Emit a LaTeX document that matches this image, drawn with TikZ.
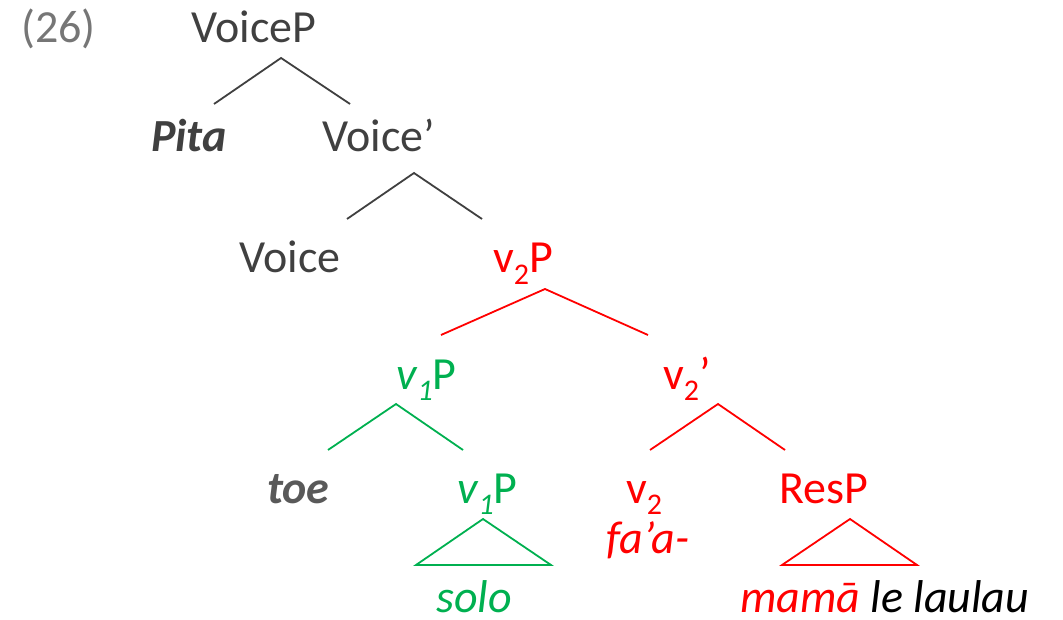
\documentclass[tikz,border=0pt]{standalone}
\usepackage{fontspec}
\setmainfont{Carlito}
\usetikzlibrary{calc}
\definecolor{txtgray}{HTML}{404040}
\definecolor{numgray}{HTML}{767676}
\definecolor{toegray}{HTML}{595959}
\definecolor{treered}{HTML}{FF0000}
\definecolor{treegreen}{HTML}{00B050}
% lowered, smaller index digit
\newcommand\lowidx[1]{\raisebox{-0.24em}{\fontsize{30}{30}\selectfont #1}}
\begin{document}
\begin{tikzpicture}[x=1pt,y=-1pt,
  lbl/.style={anchor=base west,inner sep=0pt,font=\fontsize{46}{55}\selectfont,text=txtgray},
  branch/.style={line width=1.8pt,draw=txtgray},
  redbranch/.style={line width=1.8pt,draw=treered,line join=miter},
  greenbranch/.style={line width=1.8pt,draw=treegreen,line join=miter}]
\useasboundingbox (0,0) rectangle (1063,620);

% labels
\node[lbl,text=numgray] (num) at (21,43) {(26)};
\node[lbl] (voicep) at (191,43) {VoiceP};
\node[lbl] (pita) at (151,152) {\textbf{\textit{Pita}}};
\node[lbl] (voicebar) at (322,152) {Voice’};
\node[lbl] (voice) at (239,273) {Voice};
\node[lbl,text=treered] (vtwop) at (493,273) {v\lowidx{2}P};
\node[lbl,text=treegreen] (vonep) at (396,389) {\textit{v}\lowidx{\textit{1}}P};
\node[lbl,text=treered] (vtwobar) at (663,389) {v\lowidx{2}’};
\node[lbl,text=toegray] (toe) at (267,503) {\textbf{\textit{toe}}};
\node[lbl,text=treegreen] (vonelow) at (457,503) {\textit{v}\lowidx{\textit{1}}P};
\node[lbl,text=treered] (vtwo) at (626,503) {v\lowidx{2}};
\node[lbl,text=treered] (faa) at (606,553) {\textit{fa’a-}};
\node[lbl,text=treered] (resp) at (779,503) {ResP};
\node[lbl,text=treegreen] (solo) at (436,612) {\textit{solo}};
\node[lbl] (obj) at (740,612) {\textit{\textcolor{treered}{mamā} \textcolor{black}{le laulau}}};

% branch points
\coordinate (a0) at (281,58);  \coordinate (a0l) at (214,104); \coordinate (a0r) at (350,104);
\coordinate (a1) at (414,173); \coordinate (a1l) at (347,219); \coordinate (a1r) at (482,219);
\coordinate (a2) at (545,289); \coordinate (a2l) at (441,335); \coordinate (a2r) at (648,335);
\coordinate (a3) at (396,404); \coordinate (a3l) at (328,450); \coordinate (a3r) at (463,450);
\coordinate (a4) at (718,404); \coordinate (a4l) at (650,450); \coordinate (a4r) at (785,450);
\coordinate (t1) at (483,519); \coordinate (t1l) at (416,565); \coordinate (t1r) at (551,565);
\coordinate (t2) at (850,519); \coordinate (t2l) at (782,565); \coordinate (t2r) at (917,565);

% branches
\draw[branch] (a0l) -- (a0) -- (a0r);
\draw[branch] (a1l) -- (a1) -- (a1r);
\draw[redbranch] (a2l) -- (a2) -- (a2r);
\draw[greenbranch] (a3l) -- (a3) -- (a3r);
\draw[redbranch] (a4l) -- (a4) -- (a4r);
% triangles
\draw[greenbranch] (t1) -- (t1l) -- (t1r) -- cycle;
\draw[redbranch] (t2) -- (t2l) -- (t2r) -- cycle;
\end{tikzpicture}
\end{document}
